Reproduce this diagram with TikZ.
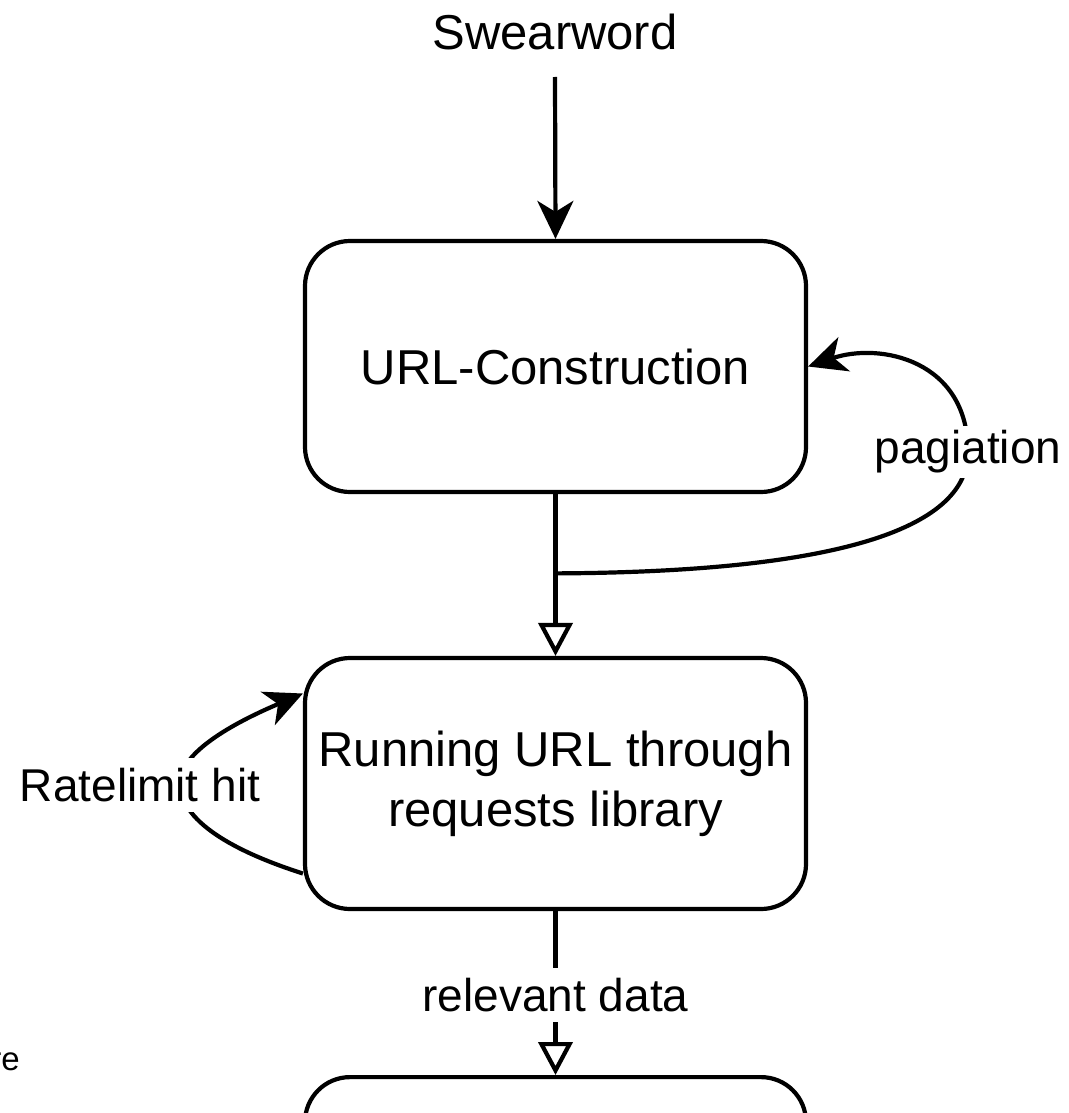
\documentclass[tikz,border=0pt]{standalone}
\usepackage{fontspec}
\setmainfont{Liberation Sans}
\usetikzlibrary{arrows.meta,calc}
\begin{document}
\begin{tikzpicture}[x=1pt,y=-1pt,
  box/.style={draw=black, line width=4.2pt, rounded corners=45pt, minimum width=501pt, minimum height=251pt, align=center, font=\fontsize{49}{60}\selectfont, inner sep=0pt},
  lbl/.style={fill=white, inner xsep=3pt, inner ysep=10pt, font=\fontsize{46}{55}\selectfont},
  conn/.style={draw=black, line width=4.2pt},
  fil/.style={conn, -{Stealth[length=38pt,width=36pt,inset=11pt]}},
  opn/.style={conn, -{Triangle[open,length=33pt,width=34pt]}}
]
\clip (0,0) rectangle (1068,1113);
\fill[white] (0,0) rectangle (1068,1113);

\node[inner sep=0pt, anchor=base, font=\fontsize{49}{60}\selectfont] (sw) at (555,50) {Swearword};
\node[box] (b1) at (555.5,366.5) {URL-Construction};
\node[box] (b2) at (555.5,783.5) {Running URL through\\requests library};
\node[box, anchor=north] (b3) at (555.5,1075) {};
\node[inner sep=0pt, anchor=base east, font=\fontsize{33}{40}\selectfont] (re) at (20,1070) {re};

\coordinate (j) at ($(b1.south)!0.49!(b2.north)$);
\coordinate (rlout) at ($(b2.west)+(0,90)$);
\coordinate (rlin) at ($(b2.west)+(0,-90)$);

\draw[fil] ($(sw.base)+(0,27)$) -- (b1.north);
\draw[opn] (b1.south) -- (b2.north);
\draw[fil] (j) .. controls (850,572) and (968,525) .. (968,452)
  node[lbl, inner ysep=5pt] {pagiation}
  .. controls (968,360) and (880,342) .. (b1.east);
\draw[fil] (rlout) .. controls (245,855) and (180,825) .. (180,783)
  node[lbl, xshift=-40pt, yshift=-2pt] {Ratelimit hit}
  .. controls (180,748) and (250,716) .. (rlin);
\draw[opn] (b2.south) -- node[lbl, pos=0.5, yshift=-2pt] {relevant data} (b3.north);
\end{tikzpicture}
\end{document}
